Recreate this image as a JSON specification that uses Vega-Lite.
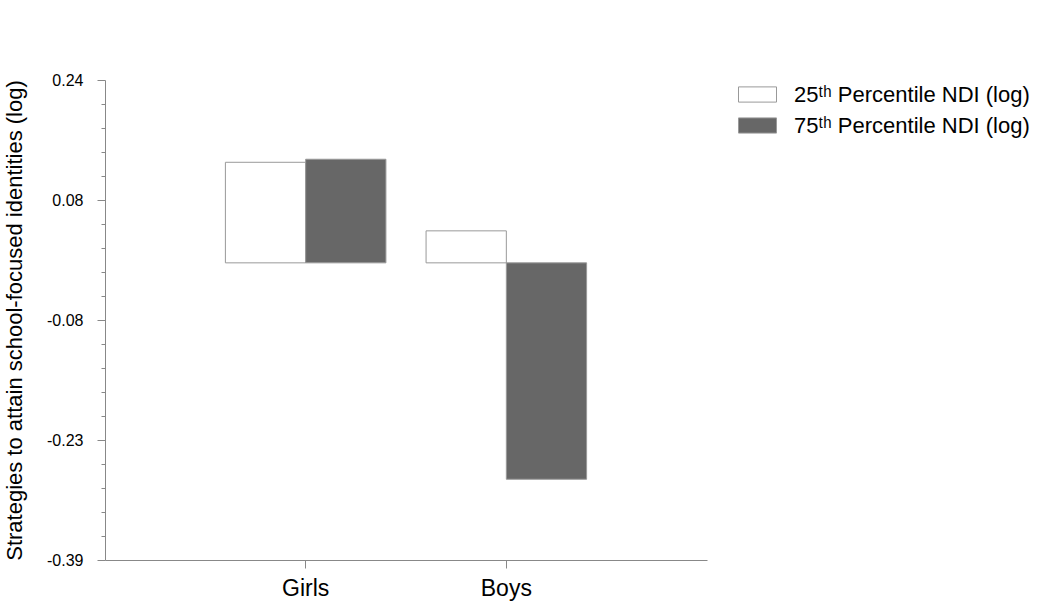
{
  "$schema": "https://vega.github.io/schema/vega-lite/v6.json",
  "width": 602,
  "height": 480,
  "autosize": {"type": "none"},
  "padding": {"left": 105, "top": 80, "right": 343, "bottom": 46},
  "background": "white",
  "config": {
    "font": "Liberation Sans",
    "view": {"stroke": null},
    "axis": {"domainColor": "#888", "tickColor": "#888", "labelColor": "black", "titleColor": "black", "grid": false}
  },
  "data": {
    "values": [
      {"group": "Girls", "pct": "25ᵗʰ Percentile NDI (log)", "value": 0.132},
      {"group": "Girls", "pct": "75ᵗʰ Percentile NDI (log)", "value": 0.136},
      {"group": "Boys", "pct": "25ᵗʰ Percentile NDI (log)", "value": 0.042},
      {"group": "Boys", "pct": "75ᵗʰ Percentile NDI (log)", "value": -0.284}
    ]
  },
  "layer": [
    {
      "mark": {"type": "bar", "stroke": "#999", "strokeWidth": 1},
      "encoding": {
        "x": {
          "field": "group", "type": "nominal", "sort": ["Girls", "Boys"],
          "scale": {"paddingInner": 0.2, "paddingOuter": 0.6},
          "axis": {"title": null, "labelAngle": 0, "labelFontSize": 23, "labelPadding": 9, "tickSize": 8}
        },
        "xOffset": {"field": "pct", "type": "nominal", "scale": {"paddingInner": 0, "paddingOuter": 0}},
        "y": {
          "field": "value", "type": "quantitative",
          "scale": {"domain": [-0.39, 0.24], "nice": false, "zero": false},
          "axis": {
            "title": "Strategies to attain school-focused identities (log)",
            "titleFontSize": 22, "titleFontWeight": "normal", "titlePadding": 20,
            "values": [0.24, 0.0825, -0.0751, -0.2325, -0.39],
            "labelExpr": "replace(format(datum.value, '.2f'), '\u2212', '-')",
            "labelFontSize": 16, "labelPadding": 14, "tickSize": 8
          }
        },
        "y2": {"datum": 0},
        "fill": {
          "field": "pct", "type": "nominal",
          "scale": {"range": ["#ffffff", "#676767"]},
          "legend": {
            "title": null, "orient": "none", "legendX": 633, "legendY": -5,
            "labelFontSize": 22, "labelColor": "black", "labelOffset": 17, "labelLimit": 0,
            "symbolType": "M-1,-0.4H1V0.4H-1Z", "symbolSize": 1444,
            "symbolStrokeColor": "#999", "symbolStrokeWidth": 1, "rowPadding": 0
          }
        }
      }
    },
    {
      "mark": {"type": "point", "opacity": 0},
      "encoding": {
        "y": {
          "field": "value", "type": "quantitative",
          "axis": {
            "orient": "left", "title": null, "labels": false, "domain": false, "tickSize": 4,
            "values": [0.2085, 0.177, 0.1455, 0.114, 0.051, 0.0195, -0.012, -0.0435, -0.1065, -0.138, -0.1695, -0.201, -0.264, -0.2955, -0.327, -0.3585]
          }
        }
      }
    }
  ],
  "resolve": {"axis": {"y": "independent"}}
}
